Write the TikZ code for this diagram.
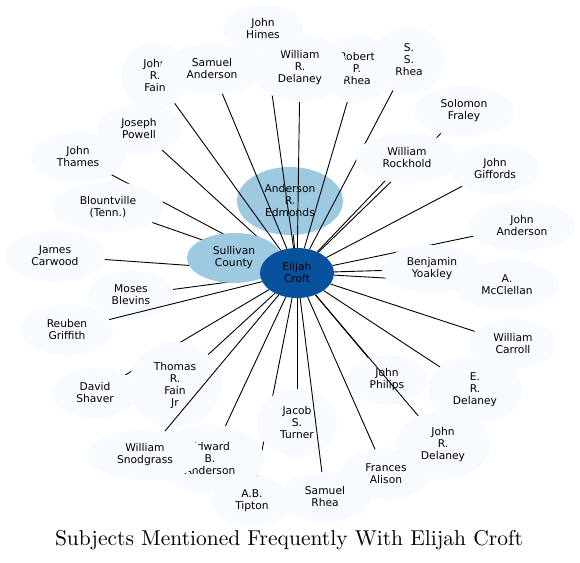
\documentclass[tikz,border=0pt]{standalone}
\usepackage{fontspec}
\newfontfamily\dvsans{DejaVu Sans}
\newfontfamily\ttlfont{lmroman10-regular.otf}
\usetikzlibrary{shapes.geometric}
\definecolor{lightfill}{HTML}{F7FBFF}
\definecolor{midfill}{HTML}{9ECAE1}
\definecolor{darkfill}{HTML}{08519C}
\pgfdeclarelayer{edgesunder}
\pgfdeclarelayer{nodesunder}
\pgfdeclarelayer{edgesover}
\pgfsetlayers{edgesunder,nodesunder,edgesover,main}
\tikzset{
  bub/.style={ellipse, fill=lightfill, draw=none, inner sep=0pt, align=center,
    font=\dvsans\fontsize{10.7}{12}\selectfont, text=black},
  midbub/.style={bub, fill=midfill},
  darkbub/.style={bub, fill=darkfill, text=black},
  edg/.style={draw=black, line width=0.9pt},
  ttl/.style={font=\ttlfont\fontsize{21.5}{25}\selectfont, inner sep=0pt}
}
\begin{document}
\begin{tikzpicture}[x=1pt,y=-1pt]
\useasboundingbox (0,0) rectangle (580,562);

% nodes drawn below the upper edges
\begin{pgfonlayer}{nodesunder}
\node[midbub, minimum width=94, minimum height=50] (sul) at (234,258) {Sullivan\\County};
\node[darkbub, minimum width=74, minimum height=50] (eli) at (297,273) {Elijah\\Croft};
\node[midbub, minimum width=106, minimum height=68] (and) at (290,201) {Anderson\\R.\\Edmonds};
\node[bub, minimum width=80, minimum height=68] (jac) at (297,423) {Jacob\\S.\\Turner};
\node[bub, minimum width=80, minimum height=50] (phi) at (387,380) {John\\Philips};
\node[bub, minimum width=92, minimum height=86] (tho) at (175,385) {Thomas\\R.\\Fain\\Jr};
\node[bub, minimum width=86, minimum height=48] (mos) at (131,295) {Moses\\Blevins};
\end{pgfonlayer}

% nodes drawn on top
\node[bub, minimum width=68, minimum height=66] (jrf) at (155,76) {John\\R.\\Fain};
\node[bub, minimum width=104, minimum height=50] (san) at (212,69) {Samuel\\Anderson};
\node[bub, minimum width=68, minimum height=68] (rpr) at (357,69) {Robert\\P.\\Rhea};
\node[bub, minimum width=94, minimum height=68] (wrd) at (300,68) {William\\R.\\Delaney};
\node[bub, minimum width=80, minimum height=48] (him) at (263,29) {John\\Himes};
\node[bub, minimum width=70, minimum height=68] (ssr) at (409,60) {S.\\S.\\Rhea};
\node[bub, minimum width=100, minimum height=50] (sol) at (464,111) {Solomon\\Fraley};
\node[bub, minimum width=102, minimum height=50] (roc) at (407,158) {William\\Rockhold};
\node[bub, minimum width=90, minimum height=50] (gif) at (495,169) {John\\Giffords};
\node[bub, minimum width=106, minimum height=50] (jan) at (522,226) {John\\Anderson};
\node[bub, minimum width=104, minimum height=50] (mcc) at (507,285) {A.\\McClellan};
\node[bub, minimum width=100, minimum height=48] (yoa) at (432,269) {Benjamin\\Yoakley};
\node[bub, minimum width=88, minimum height=50] (car) at (513,344) {William\\Carroll};
\node[bub, minimum width=94, minimum height=68] (erd) at (475,390) {E.\\R.\\Delaney};
\node[bub, minimum width=94, minimum height=68] (jrd) at (443,445) {John\\R.\\Delaney};
\node[bub, minimum width=92, minimum height=50] (fra) at (386,474) {Frances\\Alison};
\node[bub, minimum width=92, minimum height=50] (sar) at (325,497) {Samuel\\Rhea};
\node[bub, minimum width=108, minimum height=68] (edw) at (210,459) {Edward\\B.\\Anderson};
\node[bub, minimum width=80, minimum height=50] (tip) at (252,501) {A.B.\\Tipton};
\node[bub, minimum width=116, minimum height=50] (sno) at (145,455) {William\\Snodgrass};
\node[bub, minimum width=86, minimum height=50] (dav) at (95,393) {David\\Shaver};
\node[bub, minimum width=92, minimum height=50] (reu) at (67,330) {Reuben\\Griffith};
\node[bub, minimum width=100, minimum height=50] (jam) at (55,256) {James\\Carwood};
\node[bub, minimum width=112, minimum height=50] (blo) at (108,207) {Blountville\\(Tenn.)};
\node[bub, minimum width=94, minimum height=50] (tha) at (78,157) {John\\Thames};
\node[bub, minimum width=84, minimum height=50] (jos) at (139,129) {Joseph\\Powell};

% edges partly hidden by nodes
\begin{pgfonlayer}{edgesunder}
\foreach \t in {sul,and,jac,phi,tho,mos,sol,roc,gif,jan,mcc,yoa,car,erd,fra,edw,tip,dav,jam,blo,tha,jos}
  \draw[edg] (eli) -- (\t);
\end{pgfonlayer}

% edges drawn over some nodes
\begin{pgfonlayer}{edgesover}
\foreach \t in {sar,jrd,sno,reu,him,jrf,san,wrd,rpr,ssr}
  \draw[edg] (eli) -- (\t);
\end{pgfonlayer}

\node[ttl] (title) at (289,540) {Subjects Mentioned Frequently With Elijah Croft};
\end{tikzpicture}
\end{document}
